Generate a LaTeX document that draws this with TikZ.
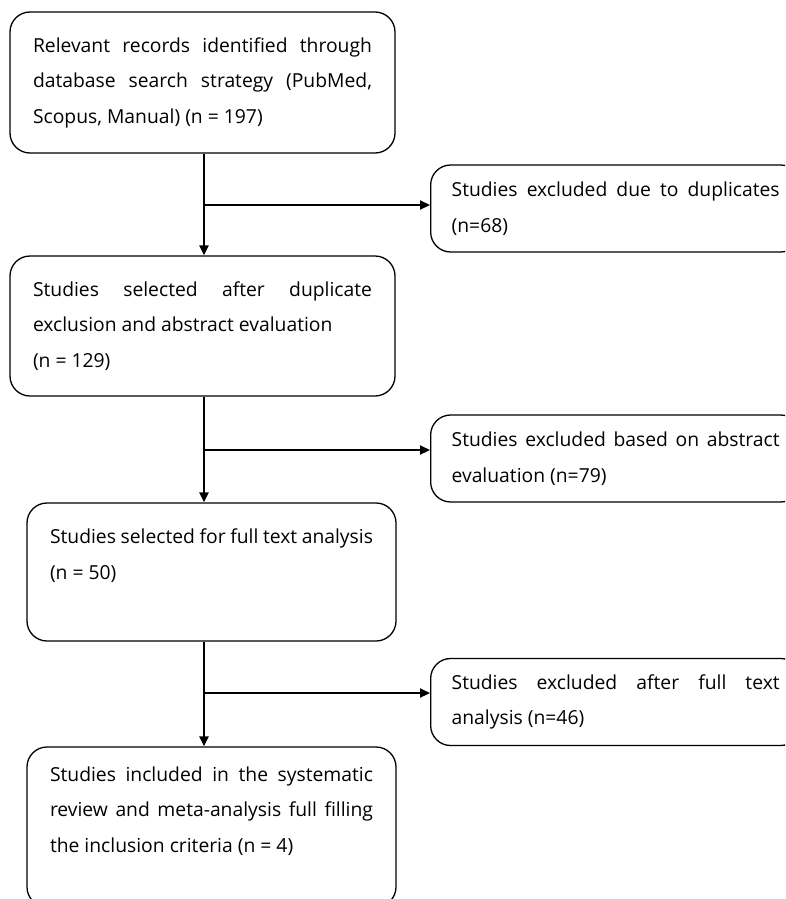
\documentclass[tikz,border=0pt]{standalone}
\usepackage{fontspec}
\setmainfont{Open Sans}
\usetikzlibrary{arrows.meta}

\begin{document}
\begin{tikzpicture}[x=1pt, y=-1pt]
  \tikzset{stage/.style={draw, line width=1.3pt, rounded corners=20pt, align=justify,
      inner xsep=23pt, inner ysep=0pt, font=\fontsize{19.3}{35.5}\selectfont},
    excl/.style={stage, inner xsep=20pt, text width=328pt, minimum width=370pt, minimum height=87pt},
    flow/.style={line width=2.2pt, -{Triangle[length=10pt, width=9pt]}}}
  \useasboundingbox (0,0) rectangle (785,899);
  \clip (0,0) rectangle (785,899);
  % main column
  \node[stage, text width=339pt, minimum width=385pt, minimum height=141pt] (rec) at (202.5,82.5)
    {Relevant records identified through\linebreak database search strategy (PubMed,\linebreak Scopus, Manual) (n = 197)};
  \node[stage, text width=339pt, minimum width=385pt, minimum height=140pt] (sel) at (202.5,326)
    {Studies selected after duplicate\linebreak exclusion and abstract evaluation\\ (n = 129)};
  \node[stage, text width=323pt, minimum width=367pt, minimum height=138pt] (full) at (211.5,572)
    {Studies selected for full text analysis\\ (n = 50)\\ \mbox{}};
  \node[stage, text width=323pt, minimum width=367pt, minimum height=160pt] (inc) at (211.5,827)
    {Studies included in the systematic\linebreak review and meta-analysis full filling\linebreak the inclusion criteria (n = 4)\\ \mbox{}};
  % excluded boxes
  \node[excl, anchor=west] (dup) at (430,208.5)
    {Studies excluded due to duplicates\linebreak (n=68)};
  \node[excl, anchor=west] (abs) at (430,458.5)
    {Studies excluded based on abstract\linebreak evaluation (n=79)};
  \node[excl, anchor=west] (txt) at (430,702)
    {Studies excluded after full text\linebreak analysis (n=46)};
  % arrows
  \coordinate (trunk) at (204,0);
  \draw[flow] (rec.south -| trunk) -- (sel.north -| trunk);
  \draw[flow] (sel.south -| trunk) -- (full.north -| trunk);
  \draw[flow] (full.south -| trunk) -- (inc.north -| trunk);
  \draw[flow] ([yshift=3.5pt]dup.west -| trunk) -- ([yshift=3.5pt]dup.west);
  \draw[flow] ([yshift=8.5pt]abs.west -| trunk) -- ([yshift=8.5pt]abs.west);
  \draw[flow] ([yshift=9pt]txt.west -| trunk) -- ([yshift=9pt]txt.west);
\end{tikzpicture}
\end{document}
